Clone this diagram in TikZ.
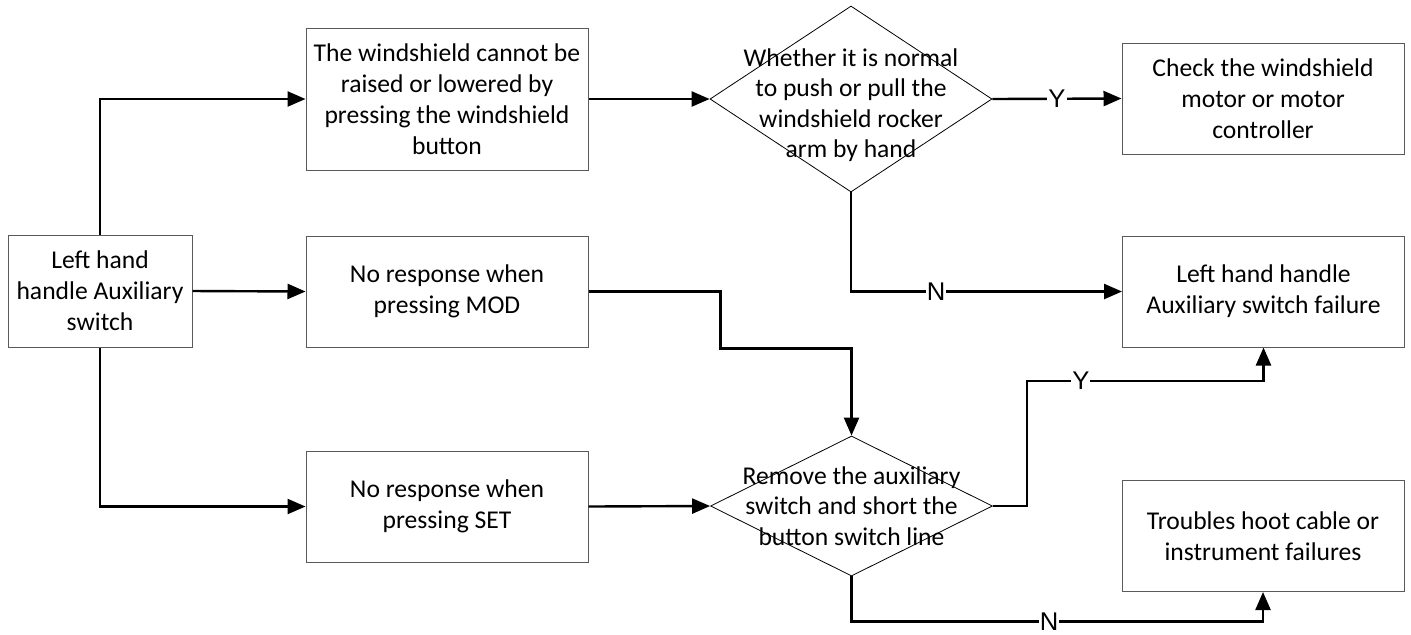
\documentclass[tikz,border=0pt]{standalone}
\usepackage{fontspec}
\setmainfont{Carlito}
\newfontfamily\lblfont{Liberation Sans}
\usetikzlibrary{arrows.meta,shapes.geometric}
\definecolor{boxline}{HTML}{5A5A5A}

\begin{document}
\begin{tikzpicture}[
  x=0.5pt, y=-0.5pt,
  box/.style  ={draw=boxline, line width=0.5pt, fill=white, align=center,
                minimum width=141pt, minimum height=55.5pt, inner sep=2pt,
                font=\fontsize{12.8}{15.5}\selectfont},
  dia/.style  ={diamond, draw=black, line width=0.4pt, inner sep=0pt,
                minimum width=141pt},
  txt/.style  ={align=center, inner sep=0pt, font=\fontsize{12.8}{15.2}\selectfont},
  lbl/.style  ={fill=white, inner sep=0.5pt, font=\lblfont\fontsize{12.8}{13}\selectfont},
  conn/.style ={-{Triangle[length=9pt,width=7.5pt]}, line width=1.2pt, black},
]
\useasboundingbox (0,0) rectangle (1411,634);

% ---------------- boxes ----------------
\node[box, minimum width=92pt, minimum height=56pt] (lh) at (100,291)
  {Left hand\\handle Auxiliary\\switch};
\node[box, minimum height=71pt] (win) at (447,99)
  {The windshield cannot be\\raised or lowered by\\pressing the windshield\\button};
\node[box] (mod) at (447,291.5) {No response when\\pressing MOD};
\node[box] (set) at (447,506.5) {No response when\\pressing SET};
\node[box] (chk)  at (1263,98.5)  {Check the windshield\\motor or motor\\controller};
\node[box] (fail) at (1263.5,291.5) {Left hand handle\\Auxiliary switch failure};
\node[box] (tb)   at (1263,536)   {Troubles hoot cable or\\instrument failures};

% ---------------- decisions ----------------
\node[dia, minimum height=93pt] (d1) at (851,99) {};
\node[txt] (d1t) at ([yshift=-3pt]d1.center) {Whether it is normal\\to push or pull the\\windshield rocker\\arm by hand};
\node[dia, minimum height=70pt] (d2) at (851.5,506) {};
\node[txt] (d2t) at (d2) {Remove the auxiliary\\switch and short the\\button switch line};

% ---------------- connectors ----------------
\draw[conn] (lh.north) |- (win.west);
\draw[conn] (lh.east) -- (mod.west);
\draw[conn] (lh.south) |- (set.west);
\draw[conn] (win.east) -- (d1.west);
\draw[conn] (d1.east) -- node[lbl] {Y} (chk.west);
\draw[conn] (d1.south) |- node[lbl, pos=0.657] {N} (fail.west);
\draw[conn] (mod.east) -- ++(132,0) -- ++(0,57) -| (d2.north);
\draw[conn] (set.east) -- (d2.west);
\draw[conn] (d2.east) -| ++(34,-125) -| node[lbl, pos=0.114] {Y} (fail.south);
\draw[conn] (d2.south) -- ++(0,45) -| node[lbl, pos=0.24] {N} (tb.south);

\end{tikzpicture}
\end{document}
